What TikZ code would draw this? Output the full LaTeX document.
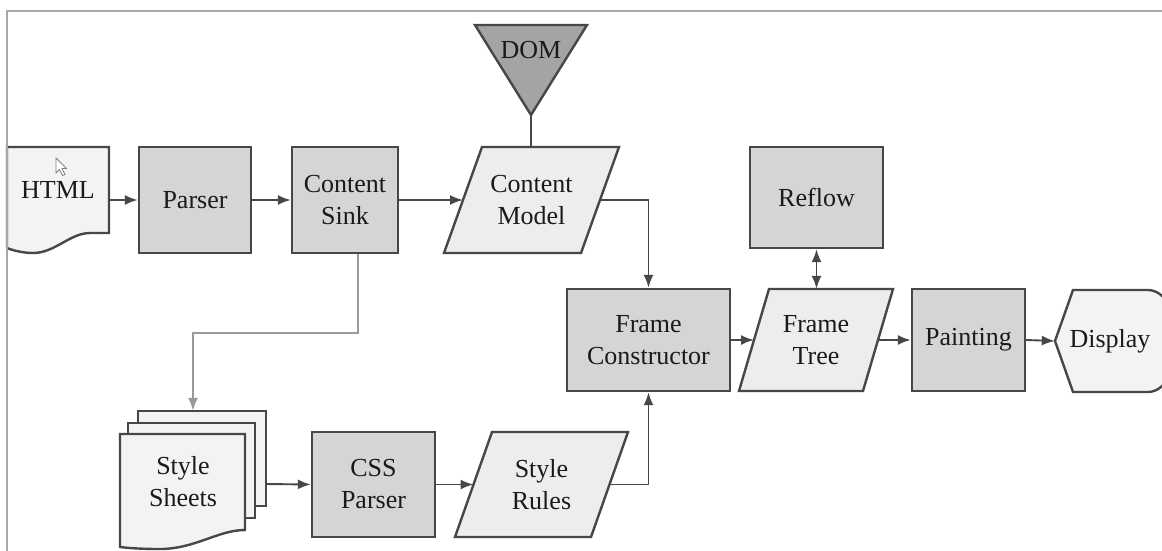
\documentclass[tikz,border=0pt]{standalone}
\usepackage{fontspec}
\setmainfont{Liberation Serif}
\usetikzlibrary{arrows.meta}
\definecolor{boxfill}{HTML}{D5D5D5}
\definecolor{docfill}{HTML}{F3F3F3}
\definecolor{parafill}{HTML}{EDEDED}
\definecolor{domfill}{HTML}{A4A4A4}
\definecolor{edge}{HTML}{474747}
\definecolor{txt}{HTML}{1A1A1A}
\definecolor{frameline}{HTML}{A8A8A8}
\definecolor{softline}{HTML}{9A9A9A}
\begin{document}
\begin{tikzpicture}[x=1pt,y=-1pt,
  every node/.style={font=\fontsize{26}{32}\selectfont, text=txt, align=center, inner sep=2pt},
  proc/.style={draw=edge, fill=boxfill, line width=2.4pt},
  ghost/.style={inner sep=0pt},
  shapeline/.style={draw=edge, line width=2.4pt, line join=miter},
  link/.style={draw=edge, line width=1.9pt},
  tip/.tip={Latex[length=13pt,width=10pt]},
  arr/.style={link, -tip},
  dblarr/.style={link, tip-tip},
  softarr/.style={draw=softline, line width=1.9pt, -tip}]

\useasboundingbox (0,0) rectangle (1162,550);
\fill[white] (0,0) rectangle (1162,550);
\clip (0,0) rectangle (1162,550);

% HTML document
\node[ghost, minimum width=102pt, minimum height=106pt] (html) at (58,200) {};
\path[shapeline, fill=docfill] (7,147) -- (109,147) -- (109,233) -- (90,233)
  .. controls (70,233) and (55,253) .. (33,253)
  .. controls (22,253) and (12,250) .. (7,248) -- cycle;
\node (htmltxt) at (58,190) {HTML};
% pointer
\path[draw=gray, fill=white, line width=0.8pt] (56,158) -- (56,173) -- (59.5,169.5) -- (62.5,175.5)
  -- (65,174.5) -- (62,168.5) -- (66.5,168.5) -- cycle;

% top row
\node[proc, minimum width=112pt, minimum height=106pt] (parser) at (195,200) {Parser};
\node[proc, minimum width=106pt, minimum height=106pt] (sink) at (345,200) {Content\\Sink};

% content model (parallelogram, slant 38)
\path[shapeline, fill=parafill] (444,253) -- (581,253) -- (619,147) -- (482,147) -- cycle;
\node[ghost, minimum width=175pt, minimum height=106pt] (cm) at (531.5,200) {Content\\Model};
\coordinate (cmL) at (463,200);
\coordinate (cmR) at (600,200);

% DOM
\path[shapeline, fill=domfill] (475,25) -- (587,25) -- (531,115) -- cycle;
\coordinate (domtip) at (531,115);
\node (dom) at (531,50) {DOM};

% middle row
\node[proc, minimum width=133pt, minimum height=101pt] (reflow) at (816.5,197.5) {Reflow};
\node[proc, minimum width=163pt, minimum height=102pt] (fc) at (648.5,340) {Frame\\Constructor};

% frame tree (parallelogram, slant 30)
\path[shapeline, fill=parafill] (739,391) -- (863,391) -- (893,289) -- (769,289) -- cycle;
\node[ghost, minimum width=154pt, minimum height=102pt] (ft) at (816,340) {Frame\\Tree};
\coordinate (ftL) at (754,340);
\coordinate (ftR) at (878,340);

\node[proc, minimum width=113pt, minimum height=102pt] (paint) at (968.5,340) {Painting};

% display
\node[ghost, minimum width=110pt, minimum height=102pt] (disp) at (1110,341) {};
\path[shapeline, fill=docfill] (1055,341) -- (1073,290) -- (1148,290)
  .. controls (1165,290) and (1178,314) .. (1178,341)
  .. controls (1178,368) and (1165,392) .. (1148,392) -- (1073,392) -- cycle;
\node (disptxt) at (1110,341) {Display};

% style sheets stack
\node[ghost, minimum width=146pt, minimum height=146pt] (ss) at (193,484) {};
\path[shapeline, fill=docfill] (138,411) rectangle (266,506);
\path[shapeline, fill=docfill] (128,423) rectangle (255,518);
\path[shapeline, fill=docfill] (120,434) -- (245,434) -- (245,530)
  .. controls (218,530) and (195,549) .. (160,549)
  .. controls (140,549) and (128,548) .. (120,547) -- cycle;
\node (sstxt) at (183,482) {Style\\Sheets};

% bottom row
\node[proc, minimum width=123pt, minimum height=105pt] (css) at (373.5,484.5) {CSS\\Parser};

% style rules (parallelogram, slant 37)
\path[shapeline, fill=parafill] (455,537) -- (591,537) -- (628,432) -- (492,432) -- cycle;
\node[ghost, minimum width=173pt, minimum height=105pt] (sr) at (541.5,484.5) {Style\\Rules};
\coordinate (srL) at (473.5,484.5);
\coordinate (srR) at (609.5,484.5);

% connectors
\draw[arr] (html) -- (parser);
\draw[arr] (parser) -- (sink);
\draw[arr] (sink) -- (cmL);
\draw[link] (domtip) -- (domtip |- cm.north);
\draw[arr] (cmR) -| (fc.north);
\draw[arr] (fc.east) -- (ftL);
\draw[dblarr] (reflow.south) -- (reflow.south |- ft.north);
\draw[arr] (ftR) -- (paint.west);
\draw[arr] (paint.east) -- (disp.west);
\draw[softarr] ([xshift=13pt]sink.south) -- ++(0,79) -| (ss.north);
\draw[arr] (ss.east) -- (css.west);
\draw[arr] (css.east) -- (srL);
\draw[arr] (srR) -| (fc.south);

% outer frame
\draw[frameline, line width=2.5pt] (7,560) -- (7,11) -- (1170,11);
\end{tikzpicture}
\end{document}
